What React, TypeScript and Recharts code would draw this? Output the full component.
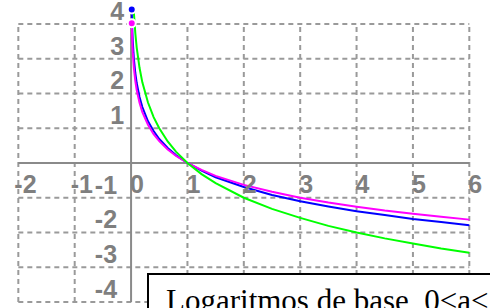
import React from 'react';
import { ComposedChart, Line, XAxis, YAxis, ReferenceLine, ReferenceDot } from 'recharts';

// sample x positions
const xs = [0.012, 0.02, 0.03, 0.05, 0.075, 0.1, 0.15, 0.2, 0.3, 0.4, 0.5, 0.65, 0.8, 1, 1.25, 1.5, 2, 2.5, 3, 3.5, 4, 4.5, 5, 5.5, 6];
// magenta curve (base 1/3)
const magenta = [4.02, 3.56, 3.19, 2.73, 2.36, 2.1, 1.73, 1.46, 1.1, 0.83, 0.63, 0.39, 0.2, 0, -0.2, -0.37, -0.63, -0.83, -1.0, -1.14, -1.26, -1.37, -1.46, -1.55, -1.63];
// blue curve (base 1/e)
const blue = [4.42, 3.91, 3.51, 3.0, 2.59, 2.3, 1.9, 1.61, 1.2, 0.92, 0.69, 0.43, 0.22, 0, -0.22, -0.41, -0.69, -0.92, -1.1, -1.25, -1.39, -1.5, -1.61, -1.7, -1.79];
// green curve (base 1/2)
const green = [null, null, null, 4.32, 3.74, 3.32, 2.74, 2.32, 1.74, 1.32, 1.0, 0.62, 0.32, 0, -0.32, -0.58, -1.0, -1.32, -1.58, -1.81, -2.0, -2.17, -2.32, -2.46, -2.58];

const xTicks = [-2, -1, 0, 1, 2, 3, 4, 5, 6];
const xLabels = ['-2', '-1', '0', '1', '2', '3', '4', '5', '6'];
const yTicks = [4, 3, 2, 1, -1, -2, -3, -4];
const yLabels = ['4', '3', '2', '1', '-1', '-2', '-3', '-4'];
const gridX = [-2, -1, 1, 2, 3, 4, 5, 6];
const gridY = [4, 3, 2, 1, -1, -2, -3, -4];
const xRange = [-2, 6];
const yRange = [-4, 4];
const yAxisTop = 4.4;
const title = 'Logaritmos de base\u00a0\u00a00<a<1';

const data = xs.map((x, i) => ({ x, m: magenta[i], b: blue[i], g: green[i] }));

const GRID = '#9a9a9a';
const AXIS = '#8a8a8a';
const LABEL = '#7f7f7f';
const labelFont = '"Liberation Sans", Arial, sans-serif';

export default function App() {
  return (
    <div style={{ position: 'absolute', left: 0, top: 0, width: 490, height: 308, overflow: 'hidden', background: '#fff' }}>
      <ComposedChart width={490} height={308} data={data} margin={{ top: 0, right: 0, bottom: 0, left: 0 }}>
        <XAxis type="number" dataKey="x" domain={[-2.325, 6.367]} hide allowDataOverflow />
        <YAxis type="number" domain={[-4.173, 4.69]} hide allowDataOverflow />
        {gridX.map((v) => (
          <ReferenceLine key={'gx' + v} segment={[{ x: v, y: yRange[0] }, { x: v, y: yRange[1] }]} stroke={GRID} strokeWidth={2} strokeDasharray="5 4" />
        ))}
        {gridY.map((v) => (
          <ReferenceLine key={'gy' + v} segment={[{ x: xRange[0], y: v }, { x: xRange[1], y: v }]} stroke={GRID} strokeWidth={2} strokeDasharray="5 4" />
        ))}
        <ReferenceLine segment={[{ x: xRange[0], y: 0 }, { x: xRange[1], y: 0 }]} stroke={AXIS} strokeWidth={2} />
        <ReferenceLine segment={[{ x: 0, y: yRange[0] }, { x: 0, y: yAxisTop }]} stroke={AXIS} strokeWidth={2} />
        {xTicks.map((v, i) => (
          <ReferenceDot
            key={'xl' + v}
            x={v}
            y={0}
            r={0}
            shape={(p: any) => (
              <text x={p.cx + (v < 0 ? -4 : -1)} y={p.cy + 30} fill={LABEL} fontSize={25} fontWeight="bold" fontFamily={labelFont} textAnchor="start">
                {xLabels[i]}
              </text>
            )}
          />
        ))}
        {yTicks.map((v, i) => (
          <ReferenceDot
            key={'yl' + v}
            x={0}
            y={v}
            r={0}
            shape={(p: any) => (
              <text x={p.cx + (v < 0 ? -14 : -7)} y={p.cy - 4} fill={LABEL} fontSize={25} fontWeight="bold" fontFamily={labelFont} textAnchor="end">
                {yLabels[i]}
              </text>
            )}
          />
        ))}
        <Line type="linear" dataKey="b" stroke="#0000ff" strokeWidth={2} dot={false} isAnimationActive={false} />
        <Line type="linear" dataKey="m" stroke="#ff00ff" strokeWidth={2} dot={false} isAnimationActive={false} />
        <Line type="linear" dataKey="g" stroke="#00ff00" strokeWidth={2} dot={false} isAnimationActive={false} connectNulls={false} />
      </ComposedChart>
      <div
        style={{
          position: 'absolute',
          left: 147,
          top: 273,
          width: 420,
          height: 80,
          border: '2px solid #000',
          background: '#fff',
          boxSizing: 'border-box',
        }}
      >
        <div
          style={{
            position: 'absolute',
            left: 17,
            top: 10,
            fontFamily: '"Liberation Serif", "Times New Roman", serif',
            fontSize: 31,
            lineHeight: '31px',
            whiteSpace: 'nowrap',
            color: '#000',
          }}
        >
          {title}
        </div>
      </div>
    </div>
  );
}
